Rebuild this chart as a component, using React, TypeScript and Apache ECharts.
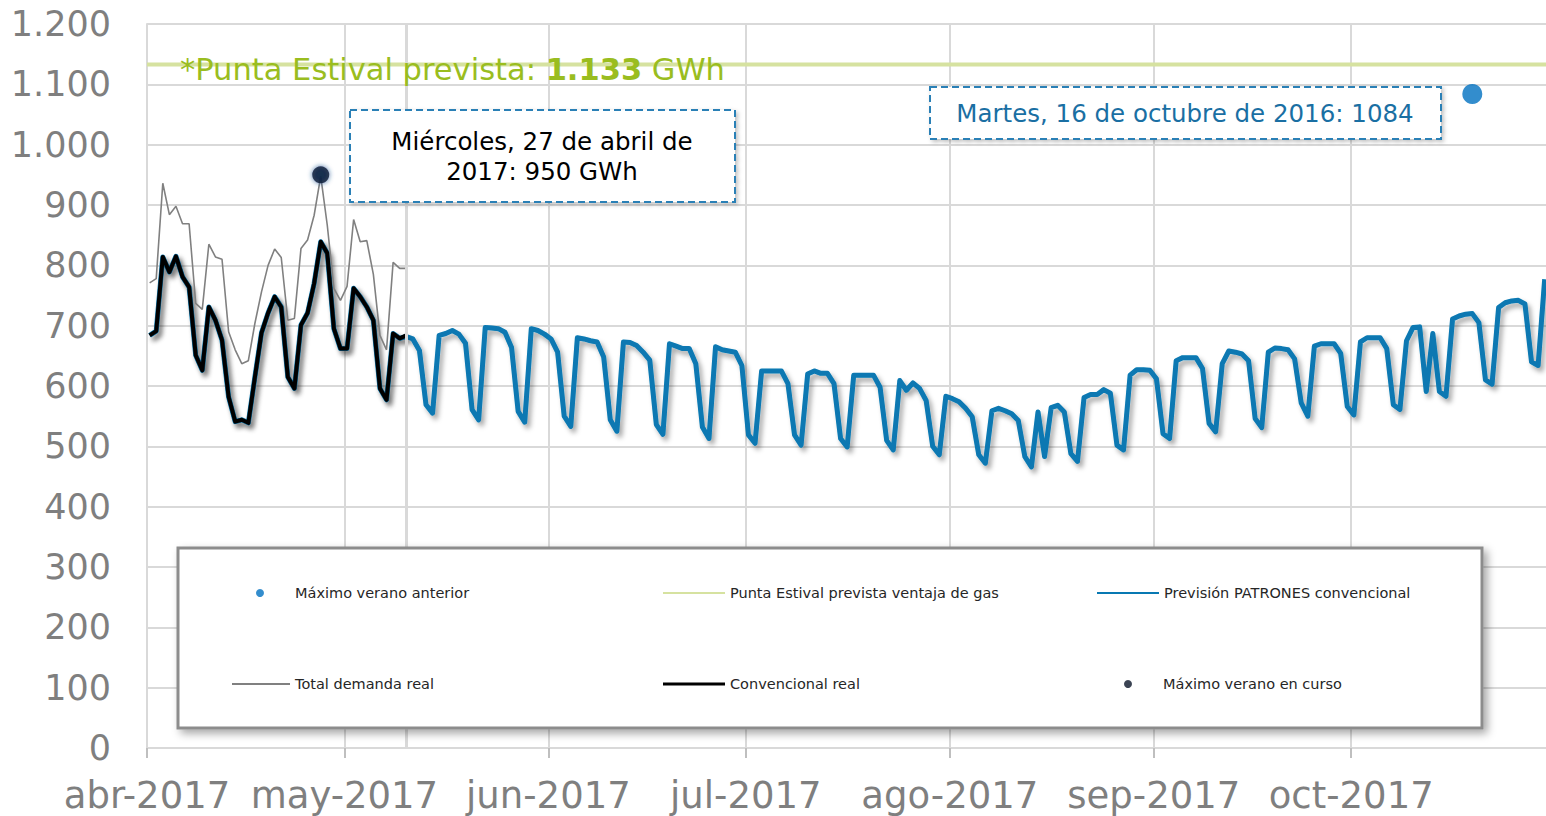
import { useEffect, useRef } from 'react';
import * as echarts from 'echarts';

// ---------- data ----------
const DAY_MS = 86400000;
const START_DATE = '2017-04-01';
const AXIS_END_DAYS = 212.6; // visible range ends late on 30 Oct 2017
const DAY_POS = 0.4; // daily points sit inside their day slot (date-axis convention)

const MONTH_STARTS = ['2017-04-01', '2017-05-01', '2017-06-01', '2017-07-01', '2017-08-01', '2017-09-01', '2017-10-01'];
const MONTH_LABELS = ['abr-2017', 'may-2017', 'jun-2017', 'jul-2017', 'ago-2017', 'sep-2017', 'oct-2017'];

// daily values from START_DATE (GWh)
const totalDemandaReal = [
  771, 778, 936, 884, 898, 869, 869,
  737, 727, 835, 814, 810, 690, 660,
  637, 642, 704, 756, 800, 827, 813,
  709, 712, 828, 842, 883, 948, 866,
  762, 742, 765, 876, 839, 841, 785,
  684, 660, 805, 795, 795,
];

const convencionalReal = [
  684, 691, 814, 789, 815, 781, 764,
  651, 626, 731, 709, 676, 582, 541,
  544, 539, 615, 688, 721, 748, 731,
  615, 596, 701, 721, 770, 839, 820,
  695, 662, 662, 762, 748, 731, 709,
  596, 577, 687, 679, 684,
];

const previsionPatrones = [
  684, 691, 814, 789, 815, 781, 764,
  651, 626, 731, 709, 676, 582, 541,
  544, 539, 615, 688, 721, 748, 731,
  615, 596, 701, 721, 770, 839, 820,
  695, 662, 662, 762, 748, 731, 709,
  596, 577, 687, 679, 682, 678, 659,
  569, 555, 684, 687, 692, 686, 671,
  561, 544, 697, 696, 695, 689, 664,
  558, 540, 695, 692, 686, 678, 656,
  550, 533, 680, 678, 675, 673, 648,
  544, 525, 673, 672, 667, 656, 643,
  536, 520, 670, 666, 662, 662, 637,
  532, 513, 665, 660, 658, 656, 634,
  519, 505, 625, 625, 625, 625, 604,
  519, 502, 620, 625, 621, 621, 604,
  513, 499, 618, 618, 618, 618, 598,
  510, 494, 609, 593, 605, 596, 576,
  500, 486, 583, 579, 574, 563, 549,
  486, 472, 559, 563, 559, 554, 543,
  483, 466, 557, 483, 564, 568, 557,
  488, 475, 581, 586, 586, 594, 588,
  502, 494, 618, 627, 627, 626, 612,
  521, 513, 642, 647, 647, 647, 629,
  538, 524, 637, 658, 656, 653, 642,
  546, 531, 656, 663, 662, 660, 645,
  572, 550, 666, 670, 670, 670, 654,
  566, 552, 673, 680, 680, 680, 662,
  569, 561, 675, 697, 698, 591, 687,
  591, 583, 711, 716, 719, 720, 705,
  610, 603, 730, 738, 741, 742, 736,
  640, 634, 777,
];

const PUNTA_ESTIVAL = 1133;
const MAX_ANTERIOR_DATE = '2017-10-19';
const MAX_ANTERIOR_VALUE = 1084;
const MAX_CURSO_DATE = '2017-04-27';
const MAX_CURSO_VALUE = 950;
const LAST_REAL_DATE = '2017-05-10';

const Y_MIN = 0;
const Y_MAX = 1200;
const Y_INTERVAL = 100;

// ---------- helpers ----------
const ts = (d: string) => Date.parse(d + 'T00:00:00Z');
const T0 = ts(START_DATE);
const dayOf = (d: string) => Math.round((ts(d) - T0) / DAY_MS);
const daily = (arr: number[]) => arr.map((v, i) => [i + DAY_POS, v]);
const MONTH_TICKS = MONTH_STARTS.map(dayOf);

const FONT = "'DejaVu Sans', Verdana, sans-serif";
const BLUE = '#0878b2';

const fmtThousands = (v: number) => {
  if (v >= 1000) {
    const th = Math.floor(v / 1000);
    const rest = String(v % 1000).padStart(3, '0');
    return th + '.' + rest;
  }
  return String(v);
};

const monthLabel = (v: number) => {
  let best = 0;
  for (let i = 0; i < MONTH_TICKS.length; i++) {
    if (Math.abs(MONTH_TICKS[i] - v) < Math.abs(MONTH_TICKS[best] - v)) best = i;
  }
  return MONTH_LABELS[best];
};

const lineShadow = {
  shadowColor: 'rgba(0,0,0,0.35)',
  shadowBlur: 5,
  shadowOffsetX: 3,
  shadowOffsetY: 4,
};

const legendText = { fontFamily: FONT, fontSize: 14.5, color: '#262626', lineHeight: 16 };
const legendBase = {
  orient: 'horizontal',
  padding: 0,
  selectedMode: false,
  z: 20,
  textStyle: legendText,
};

const option: any = {
  animation: false,
  backgroundColor: '#ffffff',
  grid: { left: 147, right: 0, top: 24, bottom: 68, containLabel: false, outerBoundsMode: 'none' },
  xAxis: {
    type: 'value',
    min: 0,
    max: AXIS_END_DAYS,
    axisLine: {
      show: true,
      onZero: false,
      lineStyle: { color: '#bfbfbf', width: 2, shadowColor: 'rgba(0,0,0,0.3)', shadowBlur: 3, shadowOffsetY: 3 },
    },
    axisTick: { show: true, length: 10, lineStyle: { color: '#bfbfbf', width: 2 }, customValues: MONTH_TICKS },
    axisLabel: {
      show: true,
      customValues: MONTH_TICKS,
      fontFamily: FONT,
      fontSize: 37,
      color: '#7f7f7f',
      margin: 29,
      formatter: monthLabel,
    },
    splitLine: { show: true, lineStyle: { color: '#d9d9d9', width: 2 } },
  },
  yAxis: {
    type: 'value',
    min: Y_MIN,
    max: Y_MAX,
    interval: Y_INTERVAL,
    axisLine: { show: true, lineStyle: { color: '#d9d9d9', width: 2 } },
    axisTick: { show: false },
    axisLabel: { fontFamily: FONT, fontSize: 35, color: '#7f7f7f', margin: 36, formatter: fmtThousands },
    splitLine: { show: true, lineStyle: { color: '#d9d9d9', width: 2 } },
  },
  legend: [
    { ...legendBase, data: ['Máximo verano anterior'], left: 256, top: 585, itemWidth: 60, itemHeight: 8, icon: 'circle' },
    { ...legendBase, data: ['Punta Estival prevista ventaja de gas'], left: 663, top: 585, itemWidth: 62, itemHeight: 2, icon: 'rect' },
    { ...legendBase, data: ['Previsión PATRONES convencional'], left: 1097, top: 585, itemWidth: 62, itemHeight: 2, icon: 'rect' },
    { ...legendBase, data: ['Total demanda real'], left: 232, top: 676, itemWidth: 58, itemHeight: 2, icon: 'rect' },
    { ...legendBase, data: ['Convencional real'], left: 663, top: 676, itemWidth: 62, itemHeight: 3, icon: 'rect' },
    { ...legendBase, data: ['Máximo verano en curso'], left: 1124, top: 676, itemWidth: 60, itemHeight: 8, icon: 'circle' },
  ],
  series: [
    {
      name: 'Punta Estival prevista ventaja de gas',
      type: 'line',
      z: 1,
      color: '#d6e2a0',
      showSymbol: false,
      symbol: 'none',
      data: [[0, PUNTA_ESTIVAL], [AXIS_END_DAYS, PUNTA_ESTIVAL]],
      lineStyle: { color: '#d6e2a0', width: 4 },
      itemStyle: { color: '#d6e2a0' },
      markLine: {
        silent: true,
        symbol: 'none',
        label: { show: false },
        lineStyle: { color: '#d9d9d9', width: 3, type: 'solid' },
        data: [{ xAxis: dayOf(LAST_REAL_DATE) + DAY_POS }],
      },
    },
    {
      name: 'Previsión PATRONES convencional',
      type: 'line',
      z: 2,
      color: BLUE,
      showSymbol: false,
      symbol: 'none',
      data: daily(previsionPatrones),
      lineStyle: { color: BLUE, width: 5, join: 'round', ...lineShadow },
      itemStyle: { color: BLUE },
    },
    {
      name: 'Convencional real',
      type: 'line',
      z: 3,
      color: '#000000',
      showSymbol: false,
      symbol: 'none',
      data: daily(convencionalReal),
      lineStyle: { color: '#000000', width: 4, join: 'round', ...lineShadow },
      itemStyle: { color: '#000000' },
    },
    {
      name: 'Total demanda real',
      type: 'line',
      z: 4,
      color: '#808080',
      showSymbol: false,
      symbol: 'none',
      data: daily(totalDemandaReal),
      lineStyle: { color: '#808080', width: 1.6 },
      itemStyle: { color: '#808080' },
    },
    {
      name: 'Máximo verano anterior',
      type: 'scatter',
      z: 5,
      color: '#0070c0',
      symbolSize: 20,
      data: [[dayOf(MAX_ANTERIOR_DATE) + DAY_POS, MAX_ANTERIOR_VALUE]],
      itemStyle: { color: '#0070c0' },
    },
    {
      name: 'Máximo verano en curso',
      type: 'scatter',
      z: 5,
      color: '#0a1428',
      symbolSize: 17,
      data: [[dayOf(MAX_CURSO_DATE) + DAY_POS, MAX_CURSO_VALUE]],
      itemStyle: { color: '#0a1428', shadowColor: '#1f4f8f', shadowBlur: 5 },
    },
  ],
  graphic: [
    {
      type: 'rect',
      z: 10,
      shape: { x: 178, y: 548, width: 1304, height: 180 },
      style: {
        fill: '#ffffff',
        stroke: '#8c8c8c',
        lineWidth: 3,
        shadowColor: 'rgba(0,0,0,0.35)',
        shadowBlur: 8,
        shadowOffsetX: 4,
        shadowOffsetY: 4,
      },
    },
    {
      type: 'text',
      z: 10,
      x: 180,
      y: 69,
      style: {
        text: '{a|*Punta Estival prevista: }{b|1.133}{a| GWh}',
        rich: {
          a: { fontFamily: FONT, fontSize: 30.5, color: '#9abd1f', fill: '#9abd1f' },
          b: { fontFamily: FONT, fontSize: 30.5, fontWeight: 'bold', color: '#9abd1f', fill: '#9abd1f' },
        },
        fill: '#9abd1f',
        verticalAlign: 'middle',
        textVerticalAlign: 'middle',
      },
    },
    {
      type: 'rect',
      z: 10,
      shape: { x: 350, y: 110, width: 385, height: 92 },
      style: {
        fill: '#ffffff',
        stroke: '#2a80b6',
        lineWidth: 2,
        lineDash: [7, 4],
        shadowColor: 'rgba(0,0,0,0.25)',
        shadowBlur: 4,
        shadowOffsetX: 2,
        shadowOffsetY: 2,
      },
    },
    {
      type: 'text',
      z: 11,
      x: 542,
      y: 156,
      style: {
        text: 'Miércoles, 27 de abril de\n2017: 950 GWh',
        fontFamily: FONT,
        fontSize: 24.5,
        lineHeight: 30,
        fill: '#000000',
        align: 'center',
        textAlign: 'center',
        verticalAlign: 'middle',
        textVerticalAlign: 'middle',
      },
    },
    {
      type: 'rect',
      z: 10,
      shape: { x: 930, y: 87, width: 511, height: 52 },
      style: {
        fill: '#ffffff',
        stroke: '#2a80b6',
        lineWidth: 2,
        lineDash: [7, 4],
        shadowColor: 'rgba(0,0,0,0.25)',
        shadowBlur: 4,
        shadowOffsetX: 2,
        shadowOffsetY: 2,
      },
    },
    {
      type: 'text',
      z: 11,
      x: 1185,
      y: 113,
      style: {
        text: 'Martes, 16 de octubre de 2016: 1084',
        fontFamily: FONT,
        fontSize: 24.5,
        fill: '#1a6fa3',
        align: 'center',
        textAlign: 'center',
        verticalAlign: 'middle',
        textVerticalAlign: 'middle',
      },
    },
  ],
};

export default function App() {
  const ref = useRef<HTMLDivElement>(null);
  useEffect(() => {
    if (!ref.current) return;
    const chart = echarts.init(ref.current, null, { renderer: 'svg' });
    chart.setOption(option);
    return () => {
      chart.dispose();
    };
  }, []);
  return (
    <div
      ref={ref}
      style={{ position: 'fixed', left: 0, top: 0, width: 1546, height: 816, background: '#ffffff' }}
    />
  );
}
